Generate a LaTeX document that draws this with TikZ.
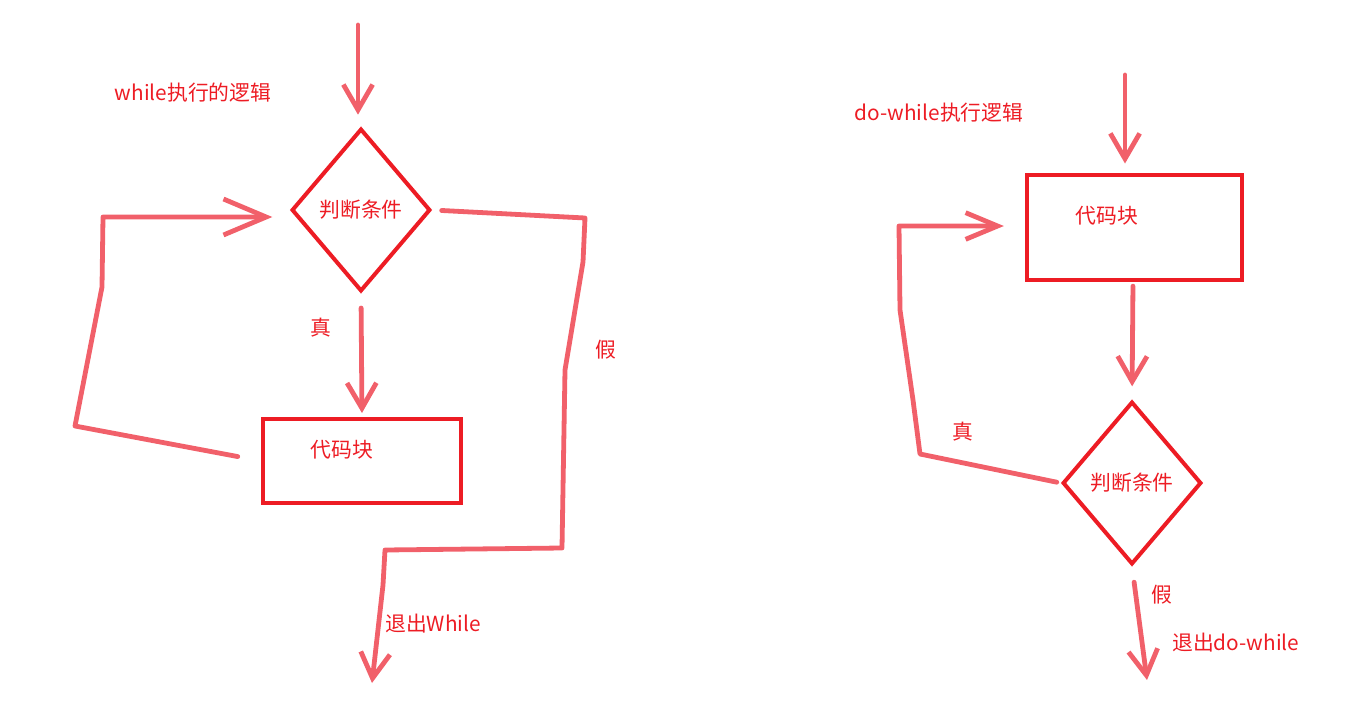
\documentclass[tikz,border=0pt]{standalone}
\usepackage{fontspec}
\setmainfont{Noto Sans CJK SC}
\usetikzlibrary{shapes.geometric,arrows.meta}
\definecolor{boxred}{RGB}{237,28,36}
\definecolor{penred}{RGB}{241,96,106}
\tikzset{
  cond/.style={diamond,draw=boxred,line width=3pt,minimum width=104pt,minimum height=122pt,inner sep=0pt,text=boxred,font=\fontsize{15.6}{18}\selectfont},
  block/.style={rectangle,draw=boxred,line width=3pt,inner sep=0pt},
  txt/.style={text=boxred,inner sep=0pt,font=\fontsize{15.6}{18}\selectfont},
  pen/.style={draw=penred,line width=3.6pt,line cap=round,line join=round,-{Straight Barb[length=19pt,width=22pt]}},
}
\begin{document}
\begin{tikzpicture}[x=0.75pt,y=-0.75pt]
	\useasboundingbox (0,0) rectangle (1371,728);

	% while
	\node[txt] (titleA) at (193,93) {while执行的逻辑};
	\node[cond] (judgeA) at (361,210) {判断条件};
	\node[block,minimum width=148pt,minimum height=63pt] (codeA) at (362,461) {};
	\node[txt] (codeAtext) at (342,450) {代码块};
	\node[txt] (trueA) at (321,328) {真};
	\node[txt] (falseA) at (606,350) {假};
	\node[txt,anchor=west] (exitAtext) at (385,624) {退出While};

	\coordinate (inA) at (358,25);
	\coordinate (loopA1) at (75,426);
	\coordinate (loopA2) at (102,287);
	\coordinate (loopA3) at (103,217);
	\coordinate (outA1) at (585,218);
	\coordinate (outA2) at (583,262);
	\coordinate (outA3) at (565,370);
	\coordinate (outA4) at (562,548);
	\coordinate (outA5) at (385,550);
	\coordinate (outA6) at (383,585);
	\coordinate (exitA) at (372,683);

	\draw[pen,shorten >=9pt] (inA) -- (inA |- judgeA.north);
	\draw[pen,shorten <=11pt,shorten >=3pt] (judgeA.south) -- (codeA.north);
	\draw[pen,-{Straight Barb[length=32pt,width=27pt]},shorten <=18pt,shorten >=13pt] (codeA.west) -- (loopA1) -- (loopA2) -- (loopA3) -- (loopA3 -| judgeA.west);
	\draw[pen,shorten <=7pt] (judgeA.east) -- (outA1) -- (outA2) -- (outA3) -- (outA4) -- (outA5) -- (outA6) -- (exitA);

	% do-while
	\node[txt] (titleB) at (939,113) {do-while执行逻辑};
	\node[block,minimum width=161pt,minimum height=79pt] (codeB) at (1134.5,227.5) {};
	\node[txt] (codeBtext) at (1107,216) {代码块};
	\node[cond] (judgeB) at (1132,483) {判断条件};
	\node[txt] (trueB) at (963,432) {真};
	\node[txt] (falseB) at (1162,595) {假};
	\node[txt,anchor=west] (exitBtext) at (1172,643) {退出do-while};

	\coordinate (inB) at (1125,75);
	\coordinate (loopB1) at (920,454);
	\coordinate (loopB2) at (913,400);
	\coordinate (loopB3) at (900,310);
	\coordinate (loopB4) at (899,226);
	\coordinate (exitB) at (1147,680);

	\draw[pen,shorten >=7pt] (inB) -- (inB |- codeB.north);
	\draw[pen,shorten <=3pt,shorten >=10pt] (codeB.south -| 1133,0) -- (judgeB.north);
	\draw[pen,-{Straight Barb[length=24pt,width=20pt]},shorten <=3pt,shorten >=16pt] (judgeB.west) -- (loopB1) -- (loopB2) -- (loopB3) -- (loopB4) -- (loopB4 -| codeB.west);
	\draw[pen,shorten <=12pt] (judgeB.south) -- (exitB);
\end{tikzpicture}
\end{document}
